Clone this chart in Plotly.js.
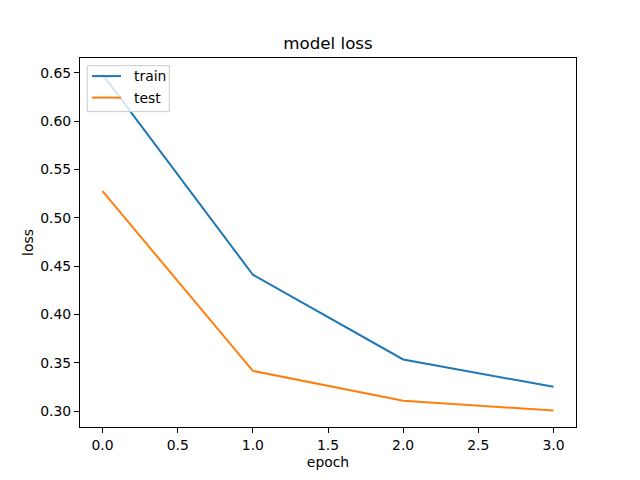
<!DOCTYPE html>
<html>
<head>
<meta charset="utf-8">
<script src="https://cdn.plot.ly/plotly-3.0.1.min.js"></script>
<style>html,body{margin:0;padding:0;background:#fff;}#chart{width:640px;height:480px;}</style>
</head>
<body>
<div id="chart"></div>
<script>
var epochs = [0, 1, 2, 3];
var trainLoss = [0.6485, 0.4411, 0.3534, 0.3251];
var testLoss = [0.5275, 0.3416, 0.3107, 0.3007];
var seriesNames = ['train', 'test'];
var seriesColors = ['#1f77b4', '#ff7f0e'];
var xTicks = [0, 0.5, 1, 1.5, 2, 2.5, 3];
var yTicks = [0.30, 0.35, 0.40, 0.45, 0.50, 0.55, 0.60, 0.65];

var font = "DejaVu Sans, sans-serif";
var traces = [
  {x: epochs, y: trainLoss, type: 'scatter', mode: 'lines', name: seriesNames[0],
   line: {color: seriesColors[0], width: 2}},
  {x: epochs, y: testLoss, type: 'scatter', mode: 'lines', name: seriesNames[1],
   line: {color: seriesColors[1], width: 2}}
];
var axisCommon = {
  showgrid: false, zeroline: false, showline: true, mirror: true,
  linecolor: '#000', linewidth: 1, ticks: 'outside', ticklen: 5, tickwidth: 1,
  tickcolor: '#000', tickfont: {family: font, size: 13.9, color: '#000'}, automargin: false
};

// matplotlib-style legend box (upper left)
var legendRowsY = [0.9510, 0.8926];
var shapes = [{type: 'rect', xref: 'paper', yref: 'paper', x0: 0.0147, x1: 0.18, y0: 0.8547, y1: 0.9792,
               fillcolor: 'rgba(255,255,255,0.8)', line: {color: '#cccccc', width: 1}, layer: 'above'}];
var annotations = [];
seriesNames.forEach(function (n, i) {
  shapes.push({type: 'line', xref: 'paper', yref: 'paper', x0: 0.0242, x1: 0.0827,
               y0: legendRowsY[i], y1: legendRowsY[i], line: {color: seriesColors[i], width: 2}, layer: 'above'});
  annotations.push({xref: 'paper', yref: 'paper', x: 0.1042, y: legendRowsY[i], xanchor: 'left', yanchor: 'middle',
                    text: n, showarrow: false, font: {family: font, size: 13.9, color: '#000'}});
});

var layout = {
  width: 640, height: 480,
  margin: {l: 80, r: 64, t: 57.6, b: 52.8, pad: 0},
  paper_bgcolor: '#fff', plot_bgcolor: '#fff',
  font: {family: font, color: '#000'},
  title: {text: 'model loss', font: {family: font, size: 16.7, color: '#000'},
          x: 0.5, xref: 'paper', y: 1 - 43/480, yanchor: 'middle'},
  xaxis: Object.assign({}, axisCommon, {
    range: [-0.15, 3.15], tickvals: xTicks, tickformat: '.1f',
    title: {text: 'epoch', font: {family: font, size: 13.9, color: '#000'}, standoff: 5}
  }),
  yaxis: Object.assign({}, axisCommon, {
    range: [0.28355, 0.66535], tickvals: yTicks, tickformat: '.2f',
    title: {text: 'loss', font: {family: font, size: 13.9, color: '#000'}, standoff: 3}
  }),
  showlegend: false,
  shapes: shapes,
  annotations: annotations
};
Plotly.newPlot('chart', traces, layout, {displayModeBar: false, staticPlot: true});
</script>
</body>
</html>
